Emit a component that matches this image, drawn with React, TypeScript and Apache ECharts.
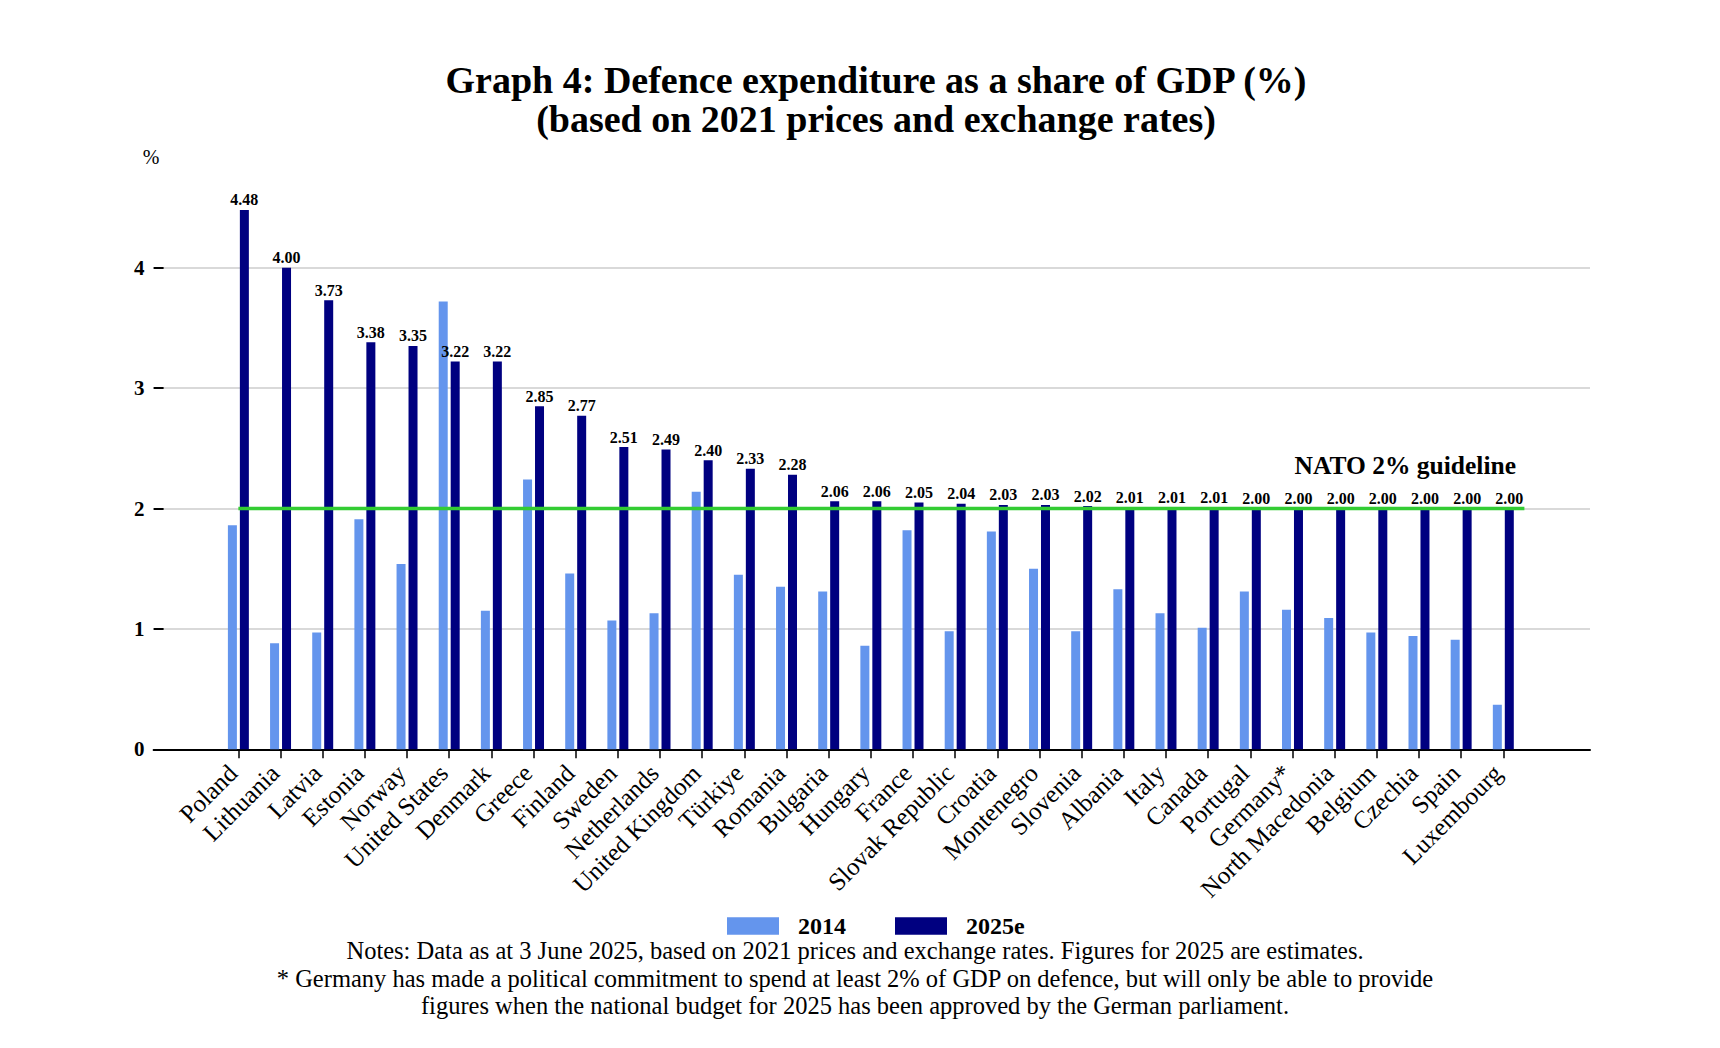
import React, { useEffect, useRef } from "react";
import * as echarts from "echarts";

const categories = [
  "Poland", "Lithuania", "Latvia", "Estonia", "Norway", "United States", "Denmark",
  "Greece", "Finland", "Sweden", "Netherlands", "United Kingdom", "Türkiye", "Romania",
  "Bulgaria", "Hungary", "France", "Slovak Republic", "Croatia", "Montenegro", "Slovenia",
  "Albania", "Italy", "Canada", "Portugal", "Germany*", "North Macedonia", "Belgium",
  "Czechia", "Spain", "Luxembourg",
];

const values2014 = [
  1.86, 0.88, 0.97, 1.91, 1.54, 3.72, 1.15, 2.24, 1.46, 1.07,
  1.13, 2.14, 1.45, 1.35, 1.31, 0.86, 1.82, 0.98, 1.81, 1.5,
  0.98, 1.33, 1.13, 1.01, 1.31, 1.16, 1.09, 0.97, 0.94, 0.91, 0.37,
];

const values2025 = [
  4.48, 4.0, 3.73, 3.38, 3.35, 3.22, 3.22, 2.85, 2.77, 2.51,
  2.49, 2.4, 2.33, 2.28, 2.06, 2.06, 2.05, 2.04, 2.03, 2.03,
  2.02, 2.01, 2.01, 2.01, 2.0, 2.0, 2.0, 2.0, 2.0, 2.0, 2.0,
];

const seriesNames = ["2014", "2025e"];
const yTickValues = [0, 1, 2, 3, 4];
const natoLevel = 2;
// NATO line runs from the first category centre to the right edge of the last band
const natoLine = [
  [0, natoLevel],
  [30.5, natoLevel],
];

const titleLines = [
  "Graph 4: Defence expenditure as a share of GDP (%)",
  "(based on 2021 prices and exchange rates)",
];
const noteLines = [
  "Notes: Data as at 3 June 2025, based on 2021 prices and exchange rates. Figures for 2025 are estimates.",
  "* Germany has made a political commitment to spend at least 2% of GDP on defence, but will only be able to provide",
  "figures when the national budget for 2025 has been approved by the German parliament.",
];

const FONT = '"Liberation Serif", "Times New Roman", serif';

export default function App() {
  const ref = useRef<HTMLDivElement>(null);

  useEffect(() => {
    if (!ref.current) return;
    const chart = echarts.init(ref.current, null, { renderer: "svg" });

    const axisY = 749.3;
    const unit = 120.4;
    const yMax0 = yTickValues[yTickValues.length - 1];
    const yMax1 = 5;

    const option: any = {
      animation: false,
      backgroundColor: "#ffffff",
      textStyle: { fontFamily: FONT, color: "#000" },
      grid: [
        {
          left: 153.6,
          top: axisY - yMax0 * unit,
          width: 1590 - 153.6,
          height: yMax0 * unit,
        },
        {
          left: 217.3,
          top: axisY - yMax1 * unit,
          width: 1524.4 - 217.3,
          height: yMax1 * unit,
        },
      ],
      xAxis: [
        {
          type: "value",
          gridIndex: 0,
          min: 0,
          max: 1,
          axisLine: { show: true, lineStyle: { color: "#000", width: 2 } },
          axisTick: { show: false },
          axisLabel: { show: false },
          splitLine: { show: false },
        },
        {
          type: "category",
          gridIndex: 1,
          data: categories,
          axisLine: { show: false },
          axisTick: {
            show: true,
            alignWithLabel: true,
            length: 9,
            lineStyle: { color: "#000", width: 1.5 },
          },
          axisLabel: {
            interval: 0,
            rotate: 45,
            margin: 14,
            padding: [0, 8, 0, 0],
            fontSize: 25,
            fontFamily: FONT,
            color: "#000",
          },
          splitLine: { show: false },
        },
        {
          type: "value",
          gridIndex: 1,
          min: -0.5,
          max: categories.length - 0.5,
          show: false,
        },
      ],
      yAxis: [
        {
          type: "value",
          gridIndex: 0,
          min: 0,
          max: yMax0,
          interval: 1,
          axisLine: { show: false },
          axisTick: {
            show: true,
            inside: true,
            length: 10,
            lineStyle: { color: "#000", width: 2 },
          },
          axisLabel: {
            margin: 9,
            fontSize: 21,
            fontWeight: "bold",
            fontFamily: FONT,
            color: "#000",
          },
          splitLine: { show: true, lineStyle: { color: "#d9d9d9", width: 2 } },
        },
        {
          type: "value",
          gridIndex: 1,
          min: 0,
          max: yMax1,
          show: false,
        },
      ],
      legend: {
        data: seriesNames,
        left: 722,
        top: 909,
        icon: "rect",
        itemWidth: 52,
        itemHeight: 17.5,
        itemGap: 49,
        textStyle: {
          fontFamily: FONT,
          fontSize: 24,
          fontWeight: "bold",
          color: "#000",
          padding: [0, 0, 0, 14],
        },
      },
      series: [
        {
          name: seriesNames[0],
          type: "bar",
          xAxisIndex: 1,
          yAxisIndex: 1,
          data: values2014,
          barWidth: 9,
          barGap: "33%",
          itemStyle: { color: "#6495ED" },
        },
        {
          name: seriesNames[1],
          type: "bar",
          xAxisIndex: 1,
          yAxisIndex: 1,
          data: values2025,
          barWidth: 9,
          barGap: "33%",
          itemStyle: { color: "#000080" },
          label: {
            show: true,
            position: "top",
            distance: 2,
            formatter: (p: any) => Number(p.value).toFixed(2),
            fontFamily: FONT,
            fontSize: 16,
            fontWeight: "bold",
            color: "#000",
          },
        },
        {
          name: "NATO 2% guideline",
          type: "line",
          xAxisIndex: 2,
          yAxisIndex: 1,
          data: natoLine,
          symbol: "none",
          lineStyle: { color: "#33cc33", width: 3.5 },
          z: 3,
        },
      ],
      graphic: [
        {
          type: "text",
          x: 876,
          y: 99.5,
          style: {
            text: titleLines.join("\n"),
            font: `bold 38px ${FONT}`,
            fill: "#000",
            textAlign: "center",
            textVerticalAlign: "middle",
            lineHeight: 39,
          },
        },
        {
          type: "text",
          x: 151,
          y: 157,
          style: {
            text: "%",
            font: `20px ${FONT}`,
            fill: "#000",
            textAlign: "center",
            textVerticalAlign: "middle",
          },
        },
        {
          type: "text",
          x: 1516,
          y: 465,
          style: {
            text: "NATO 2% guideline",
            font: `bold 25.5px ${FONT}`,
            fill: "#000",
            textAlign: "right",
            textVerticalAlign: "middle",
          },
        },
        {
          type: "text",
          x: 855,
          y: 978,
          style: {
            text: noteLines.join("\n"),
            font: `24.5px ${FONT}`,
            fill: "#000",
            textAlign: "center",
            textVerticalAlign: "middle",
            lineHeight: 27.5,
          },
        },
      ],
    };

    chart.setOption(option);
    return () => chart.dispose();
  }, []);

  return (
    <div
      ref={ref}
      style={{ position: "fixed", left: 0, top: 0, width: 1720, height: 1048, background: "#fff" }}
    />
  );
}
